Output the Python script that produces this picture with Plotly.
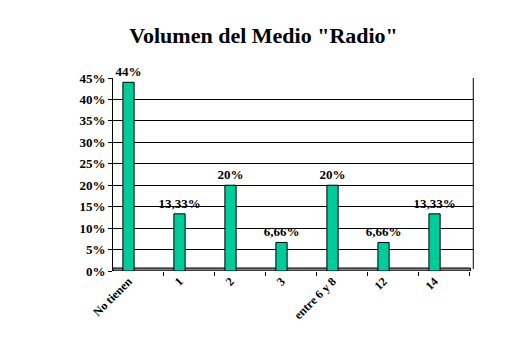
import plotly.graph_objects as go

categories = ["No tienen", "1", "2", "3", "entre 6 y 8", "12", "14"]
values = [44, 13.33, 20, 6.66, 20, 6.66, 13.33]
y_ticks = [0, 5, 10, 15, 20, 25, 30, 35, 40, 45]
y_tick_labels = [f"{v}%" for v in y_ticks]
bar_labels = [(f"{v:g}".replace(".", ",")) + "%" for v in values]

SERIF = "Liberation Serif, Times New Roman, serif"
x_pos = list(range(len(categories)))

fig = go.Figure()
fig.add_trace(go.Bar(
    x=x_pos, y=values, width=0.22,
    marker=dict(color="#00CC99", line=dict(color="black", width=1)),
    text=bar_labels, textposition="outside", cliponaxis=False,
    constraintext="none",
    textfont=dict(family=SERIF, size=13, color="black"),
    texttemplate="<b>%{text}</b>",
))
# invisible trace on secondary axis for category tick marks
fig.add_trace(go.Scatter(x=[-0.3, 6.7], y=[None, None], xaxis="x2", showlegend=False, hoverinfo="skip"))

fig.update_layout(
    width=527, height=351,
    margin=dict(l=113, r=53, t=78, b=80),
    paper_bgcolor="white", plot_bgcolor="white",
    showlegend=False,
    title=dict(text="<b>Volumen del Medio \"Radio\"</b>", x=0.5, xanchor="center",
               y=1 - 35 / 351, yanchor="middle",
               font=dict(family=SERIF, size=22, color="black")),
    xaxis=dict(range=[-0.304, 6.774], tickvals=x_pos,
               ticktext=[f"<b>{c}</b>" for c in categories],
               tickangle=-45, ticks="", showgrid=False, zeroline=False,
               showline=False,
               tickfont=dict(family=SERIF, size=12, color="black")),
    xaxis2=dict(range=[-0.304, 6.774], overlaying="x", side="bottom",
                tickvals=[i - 0.32 for i in range(8)], showticklabels=False,
                ticks="outside", ticklen=4, tickcolor="black",
                showgrid=False, zeroline=False, showline=False),
    yaxis=dict(range=[0, 45], tickvals=y_ticks,
               ticktext=[f"<b>{t}</b>" for t in y_tick_labels],
               showgrid=True, gridcolor="black", gridwidth=1,
               zeroline=False, showline=True, linecolor="black", linewidth=1,
               ticks="outside", ticklen=4, tickcolor="black",
               tickfont=dict(family=SERIF, size=13, color="black")),
    shapes=[
        dict(type="rect", xref="paper", yref="y", x0=0, x1=0.99, y0=0, y1=0.7,
             fillcolor="#808080", line=dict(color="black", width=1), layer="below"),
        dict(type="line", xref="paper", yref="paper", x0=0.998, x1=0.998, y0=0.01, y1=1,
             line=dict(color="black", width=1)),
    ],
)

fig.write_html("out.html")
